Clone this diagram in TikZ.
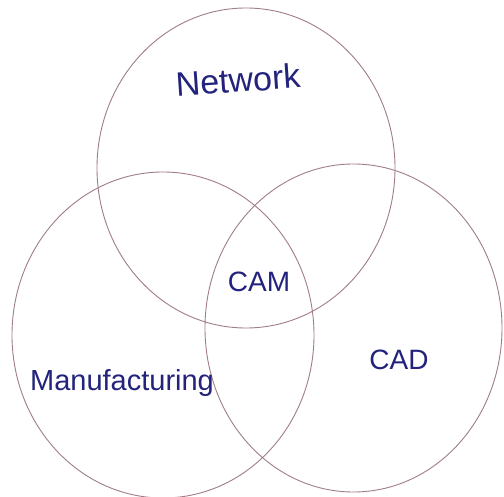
\documentclass[tikz,border=0pt]{standalone}
\usepackage{fontspec}
\setmainfont{Liberation Sans}
\definecolor{ring}{RGB}{160,125,135}
\definecolor{ink}{RGB}{35,35,125}
\begin{document}
\begin{tikzpicture}[x=1pt,y=-1pt,
  setring/.style={draw=ring, line width=0.9pt},
  lbl/.style={text=ink, inner sep=0pt}]
\useasboundingbox[fill=white] (0,0) rectangle (504,497);
\draw[setring] (246,168) ellipse [x radius=149, y radius=160];
\draw[setring] (163,335) ellipse [x radius=151, y radius=163];
\draw[setring] (353.5,328) ellipse [x radius=148.5, y radius=164];
\node[lbl, font=\fontsize{34}{34}\selectfont, rotate=4] (net) at (238,80) {Network};
\node[lbl, font=\fontsize{28}{28}\selectfont] (cam) at (259,282) {CAM};
\node[lbl, font=\fontsize{29}{29}\selectfont] (man) at (122,383) {Manufacturing};
\node[lbl, font=\fontsize{28}{28}\selectfont] (cad) at (399,360) {CAD};
\end{tikzpicture}
\end{document}
